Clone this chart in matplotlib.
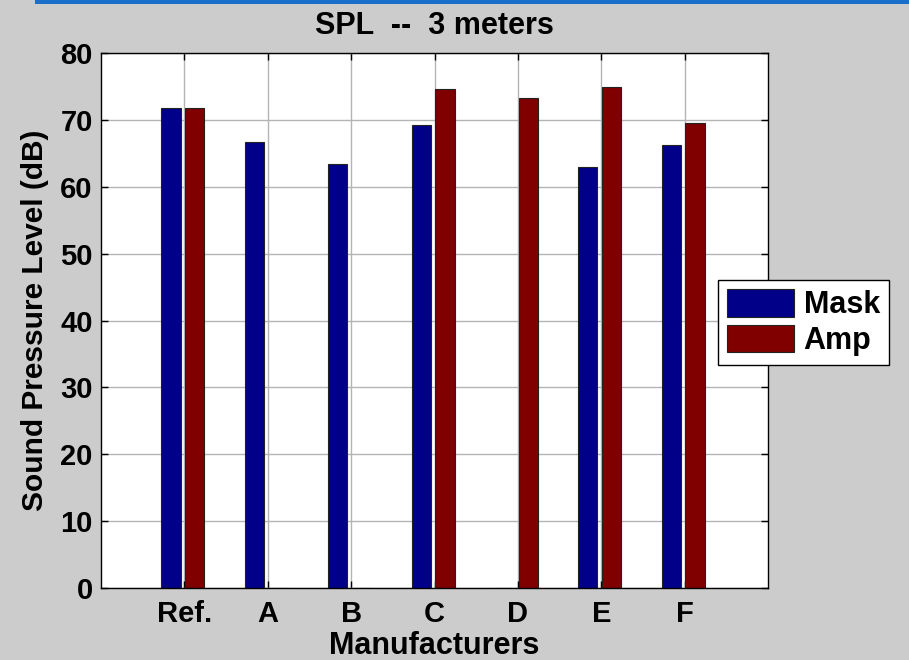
import matplotlib
matplotlib.use("Agg")
import matplotlib.pyplot as plt
import numpy as np
from matplotlib.patches import Rectangle

# Daten
manufacturers = ['Ref.', 'A', 'B', 'C', 'D', 'E', 'F']
mask_spl = [71.8, 66.7, 63.4, 69.3, 0.0, 62.9, 66.2]
amp_spl = [71.8, 0.0, 0.0, 74.6, 73.3, 74.9, 69.5]

plt.rcParams['font.family'] = ['Liberation Sans', 'DejaVu Sans']
plt.rcParams['font.weight'] = 'bold'

fig = plt.figure(figsize=(9.09, 6.6), dpi=100)
fig.patch.set_facecolor('#cccccc')
# blauer Streifen oben
fig.patches.append(Rectangle((35 / 909, 1 - 4 / 660), 1, 4 / 660, transform=fig.transFigure,
                             facecolor='#1a6fc8', edgecolor='none', zorder=0))

ax = fig.add_axes([101 / 909, 1 - 588 / 660, 667 / 909, 535 / 660])
ax.set_facecolor('white')

x = np.arange(1, len(manufacturers) + 1)
w = 0.23
ax.bar(x - 0.16, mask_spl, w, color='#000088', edgecolor='#222222', linewidth=0.8, label='Mask', zorder=2)
ax.bar(x + 0.125, amp_spl, w, color='#800000', edgecolor='#222222', linewidth=0.8, label='Amp', zorder=2)

ax.set_xlim(0, 8)
ax.set_ylim(0, 80)
ax.set_xticks(x)
ax.set_xticklabels(manufacturers)
ax.set_yticks(np.arange(0, 81, 10))
ax.tick_params(axis='both', direction='in', length=5, width=1, labelsize=21,
               top=True, right=True, color='black')
ax.tick_params(axis='x', pad=9)
ax.tick_params(axis='y', pad=6)
ax.grid(True, color='#b4b4b4', linewidth=1, linestyle='-')
ax.set_axisbelow(True)
for s in ax.spines.values():
    s.set_linewidth(1)
    s.set_color('black')

ax.set_title('SPL  --  3 meters', fontsize=22, fontweight='bold', pad=14)
ax.set_xlabel('Manufacturers', fontsize=22, fontweight='bold', labelpad=2)
ax.set_ylabel('Sound Pressure Level (dB)', fontsize=21.5, fontweight='bold', labelpad=8)

leg = fig.legend(loc='upper left', bbox_to_anchor=(718 / 909, 1 - 280 / 660),
                 bbox_transform=fig.transFigure, fontsize=22, frameon=True, fancybox=False,
                 handlelength=2.2, handleheight=1.0, handletextpad=0.3,
                 labelspacing=0.15, borderpad=0.3, borderaxespad=0)
leg.get_frame().set_edgecolor('black')
leg.get_frame().set_linewidth(1)
leg.get_frame().set_facecolor('white')
leg.get_frame().set_alpha(1)

fig.savefig('out.png', dpi=100, facecolor=fig.get_facecolor())
